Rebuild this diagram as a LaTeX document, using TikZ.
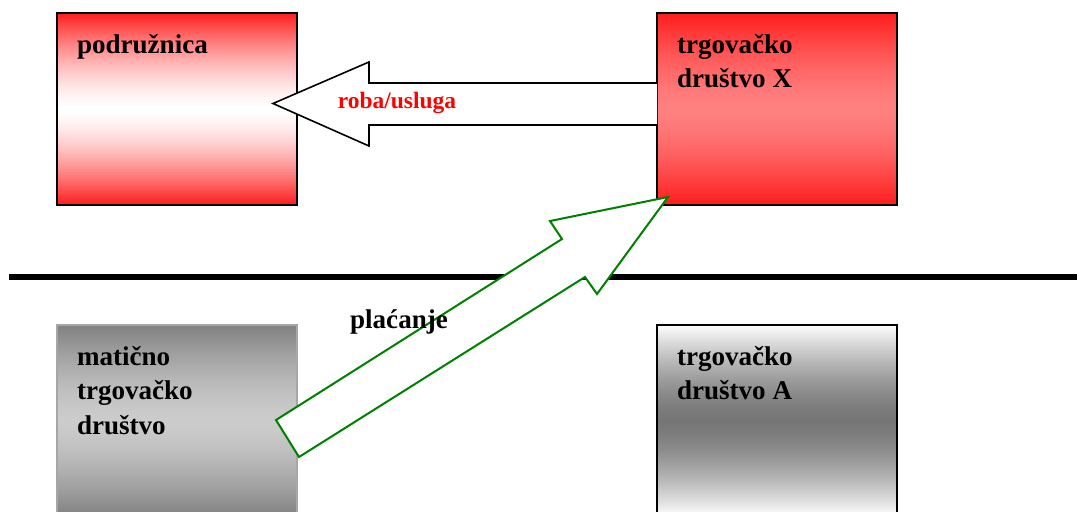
\documentclass[tikz,border=0pt]{standalone}
\usepackage{fontspec}
\setmainfont{Liberation Serif}
\usetikzlibrary{positioning}
\definecolor{jakocrvena}{RGB}{255,28,28}
\definecolor{blijedocrvena}{RGB}{255,128,128}
\definecolor{tamnosiva}{RGB}{128,128,128}
\definecolor{svijetlosiva}{RGB}{204,204,204}
\definecolor{srednjesiva}{RGB}{118,118,118}
\definecolor{zelena}{RGB}{0,128,0}
% vertikalni prelaz boja: rub -> sredina -> rub
\newcommand{\prelaz}[3]{%
	\foreach \i in {0,...,95} {
		\pgfmathsetmacro{\udio}{(abs(\i+0.5-48)/48)^1.5*100}
		\fill[#2!\udio!#3] ([yshift=-\i*1.5pt]#1.north west) rectangle ([yshift=-\i*1.5pt-1.7pt]#1.north east);
	}}
\begin{document}
\begin{tikzpicture}[x=0.75pt,y=-0.75pt]
	\clip (0,0) rectangle (1077,511);
	\begin{scope}[every node/.style={rectangle,minimum width=180pt,minimum height=144pt,inner sep=0pt,outer sep=0pt}]
	\node (podruznica) at (177,109) {};
	\node (drustvoX) at (777,109) {};
	\node (maticno) at (177,421) {};
	\node (drustvoA) at (777,421) {};
	\end{scope}
	\prelaz{podruznica}{jakocrvena}{white}
	\prelaz{drustvoX}{jakocrvena}{blijedocrvena}
	\prelaz{maticno}{tamnosiva}{svijetlosiva}
	\prelaz{drustvoA}{white}{srednjesiva}
	\draw[line width=1.2pt] (podruznica.south west) rectangle (podruznica.north east);
	\draw[line width=1.2pt] (drustvoX.south west) rectangle (drustvoX.north east);
	\draw[line width=0.8pt,gray!70] (maticno.south west) rectangle (maticno.north east);
	\draw[line width=1.2pt] (drustvoA.south west) rectangle (drustvoA.north east);
	\begin{scope}[every node/.style={inner sep=0pt,outer sep=0pt,align=left,font=\bfseries\fontsize{20.3}{26}\selectfont}]
	\node (tp) [below right=15.75pt and 15pt of podruznica.north west] {podružnica};
	\node (tx) [below right=15.75pt and 15pt of drustvoX.north west] {trgovačko\\društvo X};
	\node (tm) [below right=15.75pt and 15pt of maticno.north west] {matično\\trgovačko\\društvo};
	\node (ta) [below right=15.75pt and 15pt of drustvoA.north west] {trgovačko\\društvo A};
	\end{scope}
	% granica
	\coordinate (lijevo) at (9,277);
	\coordinate (desno) at (1077,277);
	\draw[line width=4.5pt] (lijevo) -- (desno);
	% roba/usluga
	\draw[line width=1.2pt,fill=white] (drustvoX.west |- 0,83) -- (369,83) -- (369,62) -- (273,103.5) -- (369,146) -- (369,125) -- (drustvoX.west |- 0,125);
	\node (roba) at (397,103) {\color{red}\bfseries\fontsize{17.6}{21}\selectfont roba/usluga};
	% placanje
	\draw[draw=zelena,line width=1.5pt,fill=white] (276,420) -- (562,239) -- (550,221) -- (668,197) -- (597,294) -- (585,277) -- (299,457) -- cycle;
	\node (placanje) at (399,322) {\bfseries\fontsize{20.3}{26}\selectfont plaćanje};
\end{tikzpicture}
\end{document}
